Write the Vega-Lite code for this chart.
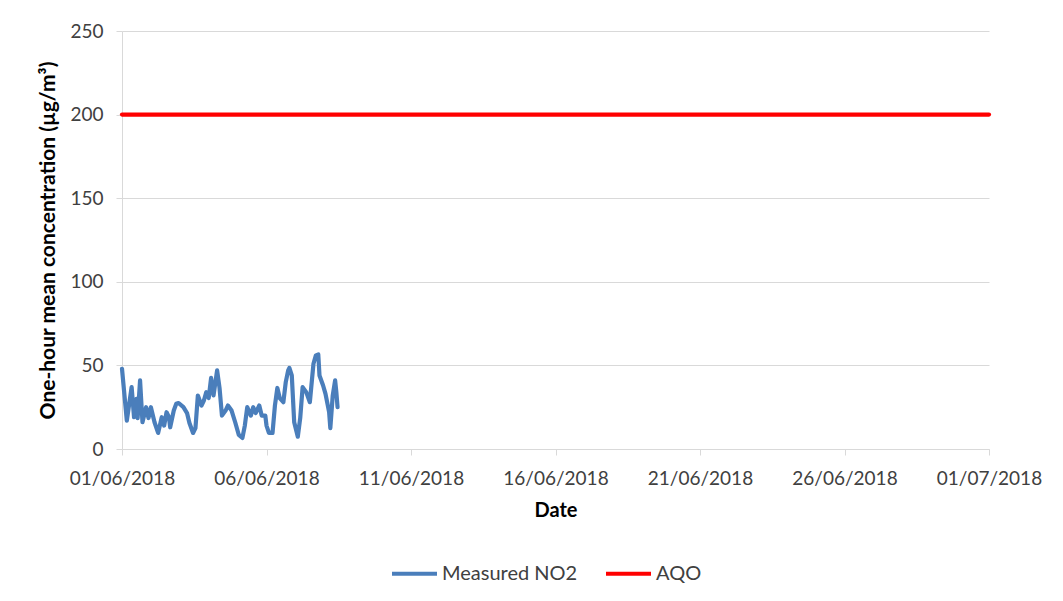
{
  "$schema": "https://vega.github.io/schema/vega-lite/v6.json",
  "width": 867,
  "height": 418,
  "autosize": {"type": "none"},
  "padding": {"left": 122, "top": 31, "right": 74, "bottom": 152},
  "background": "white",
  "config": {"view": {"stroke": null}, "font": "Lato"},
  "data": {
    "values": [
      {"t": "2018-06-01T00:00", "v": 48, "s": "Measured NO2"},
      {"t": "2018-06-01T04:00", "v": 17, "s": "Measured NO2"},
      {"t": "2018-06-01T08:00", "v": 37, "s": "Measured NO2"},
      {"t": "2018-06-01T10:00", "v": 19, "s": "Measured NO2"},
      {"t": "2018-06-01T12:00", "v": 30, "s": "Measured NO2"},
      {"t": "2018-06-01T13:00", "v": 18.5, "s": "Measured NO2"},
      {"t": "2018-06-01T15:00", "v": 41, "s": "Measured NO2"},
      {"t": "2018-06-01T17:00", "v": 16, "s": "Measured NO2"},
      {"t": "2018-06-01T20:00", "v": 25, "s": "Measured NO2"},
      {"t": "2018-06-01T22:00", "v": 18.5, "s": "Measured NO2"},
      {"t": "2018-06-02T00:00", "v": 25, "s": "Measured NO2"},
      {"t": "2018-06-02T03:00", "v": 16, "s": "Measured NO2"},
      {"t": "2018-06-02T06:00", "v": 9.6, "s": "Measured NO2"},
      {"t": "2018-06-02T09:00", "v": 19, "s": "Measured NO2"},
      {"t": "2018-06-02T11:00", "v": 14, "s": "Measured NO2"},
      {"t": "2018-06-02T13:00", "v": 22, "s": "Measured NO2"},
      {"t": "2018-06-02T15:00", "v": 19, "s": "Measured NO2"},
      {"t": "2018-06-02T16:00", "v": 13, "s": "Measured NO2"},
      {"t": "2018-06-02T19:00", "v": 23, "s": "Measured NO2"},
      {"t": "2018-06-02T21:00", "v": 27, "s": "Measured NO2"},
      {"t": "2018-06-02T23:00", "v": 27.5, "s": "Measured NO2"},
      {"t": "2018-06-03T03:00", "v": 25, "s": "Measured NO2"},
      {"t": "2018-06-03T06:00", "v": 21.5, "s": "Measured NO2"},
      {"t": "2018-06-03T08:00", "v": 15.5, "s": "Measured NO2"},
      {"t": "2018-06-03T11:00", "v": 9.6, "s": "Measured NO2"},
      {"t": "2018-06-03T13:00", "v": 12.5, "s": "Measured NO2"},
      {"t": "2018-06-03T15:00", "v": 32, "s": "Measured NO2"},
      {"t": "2018-06-03T18:00", "v": 26, "s": "Measured NO2"},
      {"t": "2018-06-03T20:00", "v": 29, "s": "Measured NO2"},
      {"t": "2018-06-03T22:00", "v": 34, "s": "Measured NO2"},
      {"t": "2018-06-04T00:00", "v": 30.5, "s": "Measured NO2"},
      {"t": "2018-06-04T02:00", "v": 42.5, "s": "Measured NO2"},
      {"t": "2018-06-04T04:00", "v": 32, "s": "Measured NO2"},
      {"t": "2018-06-04T07:00", "v": 47, "s": "Measured NO2"},
      {"t": "2018-06-04T09:00", "v": 36.5, "s": "Measured NO2"},
      {"t": "2018-06-04T11:00", "v": 20, "s": "Measured NO2"},
      {"t": "2018-06-04T14:00", "v": 23, "s": "Measured NO2"},
      {"t": "2018-06-04T16:00", "v": 26, "s": "Measured NO2"},
      {"t": "2018-06-04T19:00", "v": 23, "s": "Measured NO2"},
      {"t": "2018-06-04T22:00", "v": 16, "s": "Measured NO2"},
      {"t": "2018-06-05T01:00", "v": 8.4, "s": "Measured NO2"},
      {"t": "2018-06-05T04:00", "v": 6.6, "s": "Measured NO2"},
      {"t": "2018-06-05T06:00", "v": 14, "s": "Measured NO2"},
      {"t": "2018-06-05T08:00", "v": 25, "s": "Measured NO2"},
      {"t": "2018-06-05T11:00", "v": 20, "s": "Measured NO2"},
      {"t": "2018-06-05T13:00", "v": 25, "s": "Measured NO2"},
      {"t": "2018-06-05T15:00", "v": 21.5, "s": "Measured NO2"},
      {"t": "2018-06-05T18:00", "v": 26, "s": "Measured NO2"},
      {"t": "2018-06-05T20:00", "v": 20, "s": "Measured NO2"},
      {"t": "2018-06-05T23:00", "v": 20, "s": "Measured NO2"},
      {"t": "2018-06-06T00:00", "v": 14, "s": "Measured NO2"},
      {"t": "2018-06-06T02:00", "v": 9.6, "s": "Measured NO2"},
      {"t": "2018-06-06T05:00", "v": 9.6, "s": "Measured NO2"},
      {"t": "2018-06-06T07:00", "v": 26, "s": "Measured NO2"},
      {"t": "2018-06-06T09:00", "v": 36.5, "s": "Measured NO2"},
      {"t": "2018-06-06T11:00", "v": 30.5, "s": "Measured NO2"},
      {"t": "2018-06-06T14:00", "v": 28, "s": "Measured NO2"},
      {"t": "2018-06-06T16:00", "v": 40, "s": "Measured NO2"},
      {"t": "2018-06-06T18:00", "v": 47, "s": "Measured NO2"},
      {"t": "2018-06-06T19:00", "v": 48.5, "s": "Measured NO2"},
      {"t": "2018-06-06T21:00", "v": 44, "s": "Measured NO2"},
      {"t": "2018-06-06T23:00", "v": 16, "s": "Measured NO2"},
      {"t": "2018-06-07T02:00", "v": 7.4, "s": "Measured NO2"},
      {"t": "2018-06-07T04:00", "v": 18.5, "s": "Measured NO2"},
      {"t": "2018-06-07T06:00", "v": 37, "s": "Measured NO2"},
      {"t": "2018-06-07T09:00", "v": 34, "s": "Measured NO2"},
      {"t": "2018-06-07T12:00", "v": 28, "s": "Measured NO2"},
      {"t": "2018-06-07T15:00", "v": 51, "s": "Measured NO2"},
      {"t": "2018-06-07T17:00", "v": 56, "s": "Measured NO2"},
      {"t": "2018-06-07T19:00", "v": 56.5, "s": "Measured NO2"},
      {"t": "2018-06-07T20:00", "v": 44, "s": "Measured NO2"},
      {"t": "2018-06-07T23:00", "v": 38, "s": "Measured NO2"},
      {"t": "2018-06-08T01:00", "v": 33, "s": "Measured NO2"},
      {"t": "2018-06-08T04:00", "v": 22, "s": "Measured NO2"},
      {"t": "2018-06-08T05:00", "v": 12.5, "s": "Measured NO2"},
      {"t": "2018-06-08T07:00", "v": 32, "s": "Measured NO2"},
      {"t": "2018-06-08T09:00", "v": 41, "s": "Measured NO2"},
      {"t": "2018-06-08T10:00", "v": 34, "s": "Measured NO2"},
      {"t": "2018-06-08T11:00", "v": 25, "s": "Measured NO2"},
      {"t": "2018-06-01T00:00", "v": 200, "s": "AQO"},
      {"t": "2018-07-01T00:00", "v": 200, "s": "AQO"}
    ]
  },
  "mark": {"type": "line", "strokeWidth": 4.2, "strokeCap": "round", "strokeJoin": "round"},
  "encoding": {
    "x": {
      "field": "t",
      "type": "temporal",
      "scale": {"domain": [{"year": 2018, "month": 6, "date": 1}, {"year": 2018, "month": 7, "date": 1}]},
      "axis": {
        "values": [
          {"year": 2018, "month": 6, "date": 1},
          {"year": 2018, "month": 6, "date": 6},
          {"year": 2018, "month": 6, "date": 11},
          {"year": 2018, "month": 6, "date": 16},
          {"year": 2018, "month": 6, "date": 21},
          {"year": 2018, "month": 6, "date": 26},
          {"year": 2018, "month": 7, "date": 1}
        ],
        "format": "%d/%m/%Y",
        "labelFontSize": 19,
        "labelColor": "#404040",
        "labelPadding": 14,
        "labelOverlap": false,
        "labelFlush": false,
        "tickSize": 6,
        "tickColor": "#d9d9d9",
        "domainColor": "#d9d9d9",
        "grid": false,
        "title": "Date",
        "titleFontSize": 20,
        "titleFontWeight": "bold",
        "titleColor": "#000000",
        "titlePadding": 12
      }
    },
    "y": {
      "field": "v",
      "type": "quantitative",
      "scale": {"domain": [0, 250]},
      "axis": {
        "values": [0, 50, 100, 150, 200, 250],
        "labelFontSize": 19,
        "labelColor": "#404040",
        "labelPadding": 13,
        "tickSize": 6,
        "tickColor": "#d9d9d9",
        "domainColor": "#d9d9d9",
        "grid": true,
        "gridColor": "#d9d9d9",
        "title": "One-hour mean concentration (µg/m³)",
        "titleFontSize": 21,
        "titleFontWeight": "bold",
        "titleColor": "#000000",
        "titlePadding": 11
      }
    },
    "color": {
      "field": "s",
      "type": "nominal",
      "scale": {"domain": ["Measured NO2", "AQO"], "range": ["#4a7ebb", "#ff0000"]},
      "legend": {
        "orient": "none",
        "legendX": 268,
        "legendY": 518,
        "direction": "horizontal",
        "title": null,
        "padding": 0,
        "symbolType": "stroke",
        "symbolSize": 2025,
        "symbolStrokeWidth": 4,
        "labelFontSize": 20,
        "labelColor": "#404040",
        "labelOffset": 3,
        "columnPadding": 20
      }
    }
  }
}
